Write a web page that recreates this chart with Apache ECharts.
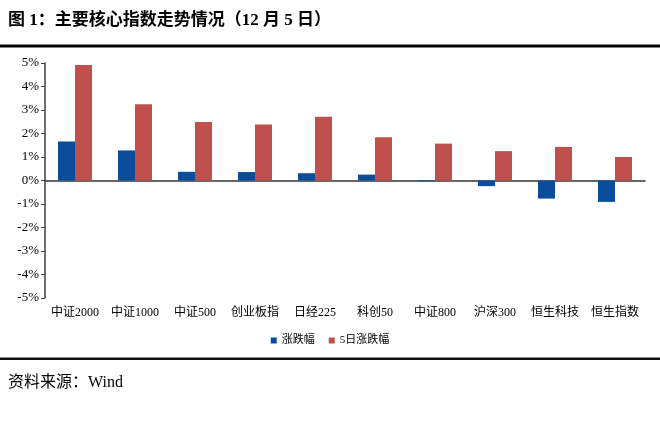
<!DOCTYPE html>
<html><head><meta charset="utf-8">
<script src="https://cdn.jsdelivr.net/npm/echarts@6/dist/echarts.min.js"></script>
<style>html,body{margin:0;padding:0;background:#fff;}#c{width:660px;height:428px;}</style>
</head><body><div id="c"></div>
<script>
const categories = ['中证2000','中证1000','中证500','创业板指','日经225','科创50','中证800','沪深300','恒生科技','恒生指数'];
const dailyChange = [1.66, 1.28, 0.37, 0.36, 0.31, 0.25, -0.03, -0.24, -0.77, -0.91];
const fiveDayChange = [4.92, 3.25, 2.49, 2.38, 2.71, 1.84, 1.57, 1.25, 1.43, 1.00];
const seriesNames = ['涨跌幅', '5日涨跌幅'];
const titleText = '图 1：主要核心指数走势情况（12 月 5 日）';
const sourceText = '资料来源：Wind';

const serif = '"Liberation Serif", "Times New Roman", "Noto Sans CJK SC", serif';
const chart = echarts.init(document.getElementById('c'));
chart.setOption({
  animation: false,
  backgroundColor: '#fff',
  graphic: [
    {type:'text', left: 8, top: 12, style:{text: titleText, font: 'bold 17px "Liberation Serif", "Noto Sans CJK SC", serif', fill:'#000'}},
    {type:'rect', shape:{x:0, y:44.5, width:660, height:3}, style:{fill:'#000'}},
    {type:'rect', shape:{x:0, y:357.5, width:660, height:2.5}, style:{fill:'#111'}},
    {type:'text', left: 8, top: 375, style:{text: sourceText, font: '16px "Liberation Serif", "Noto Sans CJK SC", serif', fill:'#000'}}
  ],
  legend: {
    data: seriesNames, left: 'center', top: 330, itemWidth: 6, itemHeight: 6, itemGap: 14,
    icon: 'rect', textStyle: {fontFamily: serif, fontSize: 11, color: '#000'}
  },
  grid: {left: 45, right: 15, top: 63, bottom: 130},
  xAxis: [
    {type:'category', data: categories, position:'bottom',
     axisLine:{show:false, onZero:false}, axisTick:{show:false},
     axisLabel:{margin: 9, fontFamily: serif, fontSize: 12, color:'#000', interval:0}},
    {type:'category', data: categories, position:'bottom',
     axisLine:{show:true, onZero:true, lineStyle:{color:'#333', width:1.5}},
     axisTick:{show:false}, axisLabel:{show:false}}
  ],
  yAxis: {
    type:'value', min:-5, max:5, interval:1,
    axisLine:{show:true, lineStyle:{color:'#404040', width:1.5}},
    axisTick:{show:true, length:4, lineStyle:{color:'#404040'}},
    splitLine:{show:false},
    axisLabel:{formatter:'{value}%', fontFamily: serif, fontSize: 13, color:'#000', margin: 6}
  },
  series: [
    {name: seriesNames[0], type:'bar', data: dailyChange, barWidth: 17, barGap:'0%', itemStyle:{color:'#0B4D9A'}},
    {name: seriesNames[1], type:'bar', data: fiveDayChange, barWidth: 17, barGap:'0%', itemStyle:{color:'#C0504D'}}
  ]
});
</script></body></html>
